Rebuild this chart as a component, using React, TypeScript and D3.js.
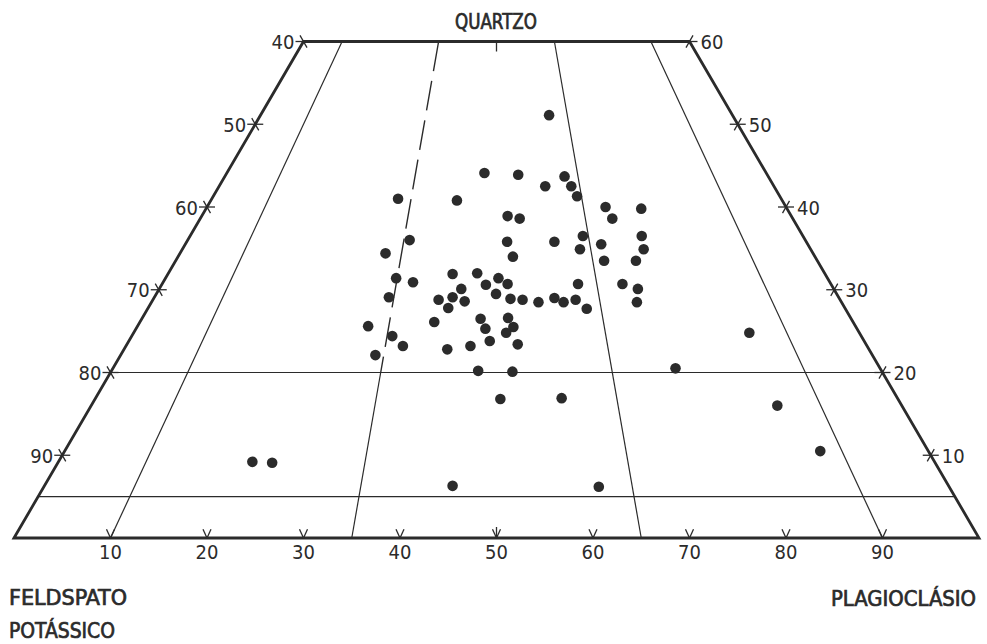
import React from 'react';
import * as d3 from 'd3';

// Diagrama QAP truncado (Q <= 60). Quartzo (Q) e plagioclásio (P), A = 100 - Q - P.
const quartzo = [
  51.1, 44.1, 43.9, 43.7, 42.5, 42.5, 41.3, 41.0, 40.8, 40.0, 39.8, 38.9, 38.6, 38.6, 36.5, 36.5,
  36.0, 35.8, 35.8, 35.5, 34.9, 34.9, 34.4, 34.0, 33.5, 33.5, 31.9, 32.0, 31.4, 31.4, 30.9, 30.6,
  30.7, 30.7, 30.7, 30.1, 30.1, 29.5, 29.1, 29.1, 28.8, 28.6, 28.9, 28.8, 28.5, 29.0, 28.5, 28.8,
  28.5, 27.8, 27.7, 26.6, 26.5, 26.1, 25.6, 25.5, 25.3, 24.8, 24.4, 24.8, 23.8, 23.4, 23.2, 23.2,
  22.8, 22.1, 20.5, 20.2, 20.1, 16.9, 16.8, 16.0, 10.5, 9.2, 9.1, 6.3, 6.2,
];
const plagioclasio = [
  29.9, 26.7, 30.3, 35.2, 33.8, 36.5, 37.7, 19.3, 25.5, 41.3, 45.1, 31.7, 33.1, 42.7, 40.7, 46.8,
  23.0, 33.2, 38.1, 43.1, 41.2, 47.8, 21.3, 34.7, 44.4, 47.7, 29.5, 32.0, 23.9, 34.5, 25.9, 33.6,
  35.8, 43.1, 47.7, 31.3, 49.6, 35.2, 24.3, 30.9, 29.6, 32.4, 37.0, 38.3, 40.1, 41.5, 42.7, 43.8,
  50.3, 31.1, 45.5, 37.9, 35.1, 30.5, 23.9, 39.0, 36.2, 38.6, 27.0, 63.8, 37.4, 40.5, 28.7, 35.7,
  33.5, 26.4, 58.3, 38.0, 41.6, 48.3, 42.0, 71.1, 78.3, 20.1, 22.2, 42.3, 57.5,
];

const baseTicks = [10, 20, 30, 40, 50, 60, 70, 80, 90];
const leftTicks = [40, 50, 60, 70, 80, 90];
const rightTicks = [60, 50, 40, 30, 20, 10];
const fieldRatios = [10, 35, 65, 90];
const quartzLines = [5, 20];
const qMax = 60;

const INK = '#2b2b2b';
const FONT = '"Liberation Sans Narrow", "DejaVu Sans Condensed", "Roboto Condensed", sans-serif';

export default function App() {
  const width = 987;
  const height = 644;
  const x = d3.scaleLinear().domain([0, 100]).range([14, 979]);
  const y = d3.scaleLinear().domain([0, qMax]).range([538, 41.5]);
  const pos = (q: number, p: number): [number, number] => [x(p + q / 2), y(q)];
  const line = d3.line();

  const outline = line([pos(0, 0), pos(qMax, 0), pos(qMax, 100 - qMax), pos(0, 100)]) + 'Z';
  const dx60 = Math.cos(Math.PI / 3);
  const dy60 = Math.sin(Math.PI / 3);
  const tl = 7;

  return (
    <svg
      width={width}
      height={height}
      style={{ position: 'absolute', left: 0, top: 0, background: '#fff' }}
      fontFamily={FONT}
    >
      {quartzLines.map((q) => (
        <path key={`q${q}`} d={line([pos(q, 0), pos(q, 100 - q)]) || ''} stroke={INK} strokeWidth={1.2} fill="none" />
      ))}
      {fieldRatios.map((r) => {
        const at = (q: number) => pos(q, (r / 100) * (100 - q));
        if (r === 35) {
          return (
            <g key={`f${r}`}>
              <path d={line([at(0), at(20)]) || ''} stroke={INK} strokeWidth={1.2} fill="none" />
              <path d={line([at(qMax), at(20)]) || ''} stroke={INK} strokeWidth={1.4} fill="none" strokeDasharray="30 10" />
            </g>
          );
        }
        return <path key={`f${r}`} d={line([at(0), at(qMax)]) || ''} stroke={INK} strokeWidth={1.2} fill="none" />;
      })}
      <path d={outline} stroke={INK} strokeWidth={2.8} fill="none" strokeLinejoin="miter" />

      {/* ticks on the base */}
      {baseTicks.map((t) => {
        const [px, py] = pos(0, t);
        return (
          <g key={`b${t}`} stroke={INK} strokeWidth={1.3}>
            <line x1={px} y1={py} x2={px - 10 * dx60 * 0.8} y2={py - 10 * dy60} />
            <line x1={px} y1={py} x2={px + 10 * dx60 * 0.8} y2={py - 10 * dy60} />
            {t === 50 && <line x1={px} y1={py} x2={px} y2={py - 11} />}
            <text x={px} y={559} textAnchor="middle" fontSize={20} fill={INK} stroke="none">{t}</text>
          </g>
        );
      })}
      {/* small mark at the top, P = 50 */}
      <line x1={pos(qMax, 50 - qMax / 2)[0]} y1={y(qMax)} x2={pos(qMax, 50 - qMax / 2)[0]} y2={y(qMax) + 10} stroke={INK} strokeWidth={1.3} />

      {/* ticks on the left edge (feldspato potássico) */}
      {leftTicks.map((t) => {
        const [px, py] = pos(100 - t, 0);
        return (
          <g key={`l${t}`} stroke={INK} strokeWidth={1.3}>
            <line x1={px - 8} y1={py} x2={px + 8} y2={py} />
            <line x1={px - tl * dx60} y1={py - tl * dy60} x2={px + tl * dx60} y2={py + tl * dy60} />
            <text x={px - 9} y={py + 7.5} textAnchor="end" fontSize={20} fill={INK} stroke="none">{t}</text>
          </g>
        );
      })}
      {/* ticks on the right edge (quartzo) */}
      {rightTicks.map((t) => {
        const [px, py] = pos(t, 100 - t);
        return (
          <g key={`r${t}`} stroke={INK} strokeWidth={1.3}>
            <line x1={px - 8} y1={py} x2={px + 8} y2={py} />
            <line x1={px - tl * dx60} y1={py + tl * dy60} x2={px + tl * dx60} y2={py - tl * dy60} />
            <text x={px + 11} y={py + 7.5} textAnchor="start" fontSize={20} fill={INK} stroke="none">{t}</text>
          </g>
        );
      })}

      {quartzo.map((q, i) => {
        const [cx, cy] = pos(q, plagioclasio[i]);
        return <circle key={`p${i}`} cx={cx} cy={cy} r={5.3} fill={INK} />;
      })}

      <g fill={INK} stroke={INK} strokeWidth={0.7}>
        <text x={455} y={29} fontSize={21} textLength={82} lengthAdjust="spacingAndGlyphs">QUARTZO</text>
        <text x={9} y={605} fontSize={22} textLength={118} lengthAdjust="spacingAndGlyphs">FELDSPATO</text>
        <text x={9} y={638} fontSize={22} textLength={106} lengthAdjust="spacingAndGlyphs">POTÁSSICO</text>
        <text x={831} y={606} fontSize={22} textLength={145} lengthAdjust="spacingAndGlyphs">PLAGIOCLÁSIO</text>
      </g>
    </svg>
  );
}
